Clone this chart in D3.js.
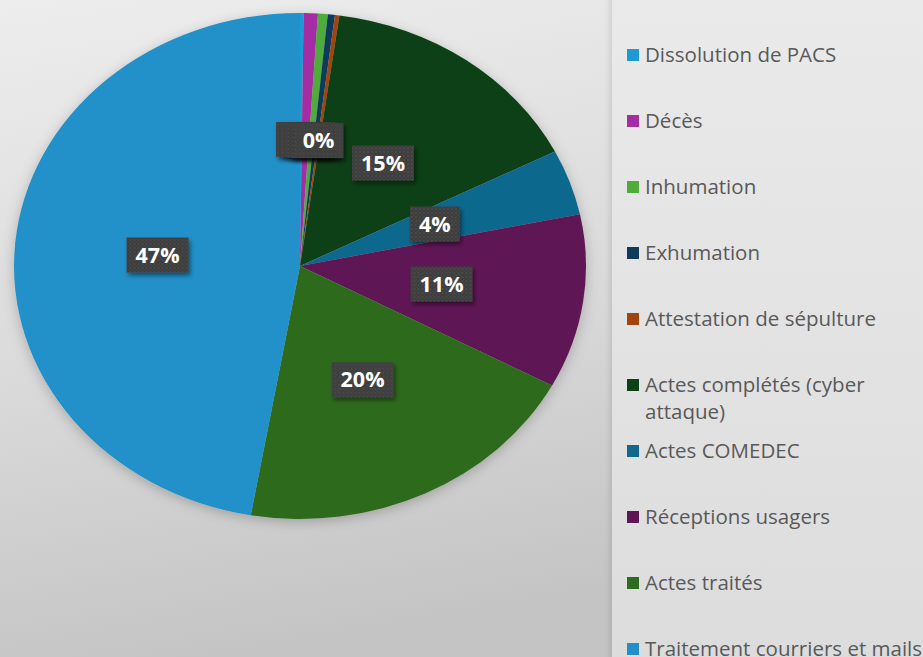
<!DOCTYPE html>
<html>
<head>
<meta charset="utf-8">
<script src="https://cdn.jsdelivr.net/npm/d3@7/dist/d3.min.js"></script>
<style>
  html, body { margin: 0; padding: 0; background: #e2e2e2; }
  svg { display: block; }
</style>
</head>
<body>
<svg id="chart" width="923" height="657"></svg>
<script>
// Répartition de l'activité du service (en % du total)
const categories = [
  "Dissolution de PACS",
  "Décès",
  "Inhumation",
  "Exhumation",
  "Attestation de sépulture",
  "Actes complétés (cyber attaque)",
  "Actes COMEDEC",
  "Réceptions usagers",
  "Actes traités",
  "Traitement courriers et mails"
];
const values = [0.2, 0.8, 0.55, 0.4, 0.25, 15.3, 4.2, 11.1, 19.9, 47.2];
const colors = [
  "#1d9ad6", "#a32ea4", "#4fab3a", "#0e3a5c", "#a1440f",
  "#0d4118", "#11678e", "#5e1655", "#2e6b1f", "#2190c9"
];
// Légende : deux lignes pour l'entrée longue
const legendLines = [
  ["Dissolution de PACS"],
  ["Décès"],
  ["Inhumation"],
  ["Exhumation"],
  ["Attestation de sépulture"],
  ["Actes complétés (cyber", "attaque)"],
  ["Actes COMEDEC"],
  ["Réceptions usagers"],
  ["Actes traités"],
  ["Traitement courriers et mails"]
];

const W = 923, H = 657;
const svg = d3.select("#chart");
const defs = svg.append("defs");

// Fond : dégradé gris
const bg = defs.append("linearGradient").attr("id", "bg")
  .attr("x1", "0").attr("y1", "0").attr("x2", "0.25").attr("y2", "1");
bg.append("stop").attr("offset", "0%").attr("stop-color", "#ededed");
bg.append("stop").attr("offset", "55%").attr("stop-color", "#dadada");
bg.append("stop").attr("offset", "100%").attr("stop-color", "#c4c4c4");

const lg = defs.append("linearGradient").attr("id", "legendBg")
  .attr("x1", "0").attr("y1", "0").attr("x2", "0").attr("y2", "1");
lg.append("stop").attr("offset", "0%").attr("stop-color", "#eaeaea");
lg.append("stop").attr("offset", "100%").attr("stop-color", "#dcdcdc");

const panelShadow = defs.append("filter").attr("id", "panelShadow")
  .attr("x", "-10%").attr("y", "-10%").attr("width", "120%").attr("height", "120%");
panelShadow.append("feDropShadow").attr("dx", -2).attr("dy", 0)
  .attr("stdDeviation", 3).attr("flood-color", "#000").attr("flood-opacity", 0.12);

const pieShadow = defs.append("filter").attr("id", "pieShadow")
  .attr("x", "-10%").attr("y", "-10%").attr("width", "120%").attr("height", "120%");
pieShadow.append("feDropShadow").attr("dx", 0).attr("dy", 3)
  .attr("stdDeviation", 6).attr("flood-color", "#000").attr("flood-opacity", 0.22);

const labelShadow = defs.append("filter").attr("id", "labelShadow")
  .attr("x", "-30%").attr("y", "-30%").attr("width", "160%").attr("height", "160%");
labelShadow.append("feDropShadow").attr("dx", 2).attr("dy", 3)
  .attr("stdDeviation", 2).attr("flood-color", "#000").attr("flood-opacity", 0.45);

// Texture pointillée des étiquettes
const dots = defs.append("pattern").attr("id", "dots")
  .attr("width", 4).attr("height", 4).attr("patternUnits", "userSpaceOnUse");
dots.append("rect").attr("width", 4).attr("height", 4).attr("fill", "#3d3d3d");
dots.append("circle").attr("cx", 1).attr("cy", 1).attr("r", 0.7).attr("fill", "#5a5a5a");
dots.append("circle").attr("cx", 3).attr("cy", 3).attr("r", 0.7).attr("fill", "#4e4e4e");

svg.append("rect").attr("width", W).attr("height", H).attr("fill", "url(#bg)");
svg.append("rect").attr("x", 612).attr("y", -10).attr("width", W - 612 + 10).attr("height", H + 20)
  .attr("fill", "url(#legendBg)").attr("filter", "url(#panelShadow)");

// Camembert elliptique
const cx = 300, cy = 266, rx = 286, ry = 253;
const data = categories.map((c, i) => ({ name: c, value: values[i], color: colors[i], lines: legendLines[i] }));
const total = d3.sum(values);
const pie = d3.pie().value(d => d.value).sort(null);
const arcs = pie(data);
const arc = d3.arc().innerRadius(0).outerRadius(ry);
const labelArc = d3.arc().innerRadius(ry * 0.5).outerRadius(ry * 0.5);
const sx = rx / ry;

const pieG = svg.append("g")
  .attr("transform", `translate(${cx},${cy}) scale(${sx},1)`)
  .attr("filter", "url(#pieShadow)");
pieG.selectAll("path").data(arcs).join("path")
  .attr("d", arc)
  .attr("fill", d => d.data.color);

// Étiquettes de pourcentage
const labG = svg.append("g");
arcs.forEach(d => {
  const [x0, y0] = labelArc.centroid(d);
  const x = cx + x0 * sx, y = cy + y0;
  const g = labG.append("g").attr("transform", `translate(${x},${y})`);
  const box = g.append("rect").attr("fill", "url(#dots)").attr("filter", "url(#labelShadow)");
  const t = g.append("text")
    .attr("text-anchor", "middle").attr("dy", "0.36em")
    .attr("font-family", "'Open Sans', sans-serif").attr("font-weight", 700)
    .attr("font-size", 21.5).attr("fill", "#ffffff")
    .text(Math.round(d.data.value / total * 100) + "%");
  const w = t.node().getComputedTextLength() + 18, h = 35;
  box.attr("x", -w / 2).attr("y", -h / 2).attr("width", w).attr("height", h);
});

// Légende
const legX = 627, legY0 = 55, legStep = 66;
const leg = svg.append("g");
data.forEach((d, i) => {
  const y = legY0 + i * legStep;
  leg.append("rect").attr("x", legX).attr("y", y - 6).attr("width", 12).attr("height", 12)
    .attr("fill", d.color);
  const t = leg.append("text")
    .attr("font-family", "'Open Sans', sans-serif").attr("font-size", 20.5)
    .attr("fill", "#595959");
  d.lines.forEach((ln, k) => {
    t.append("tspan").attr("x", legX + 18).attr("y", y + k * 27).attr("dy", "0.35em").text(ln);
  });
});
</script>
</body>
</html>
